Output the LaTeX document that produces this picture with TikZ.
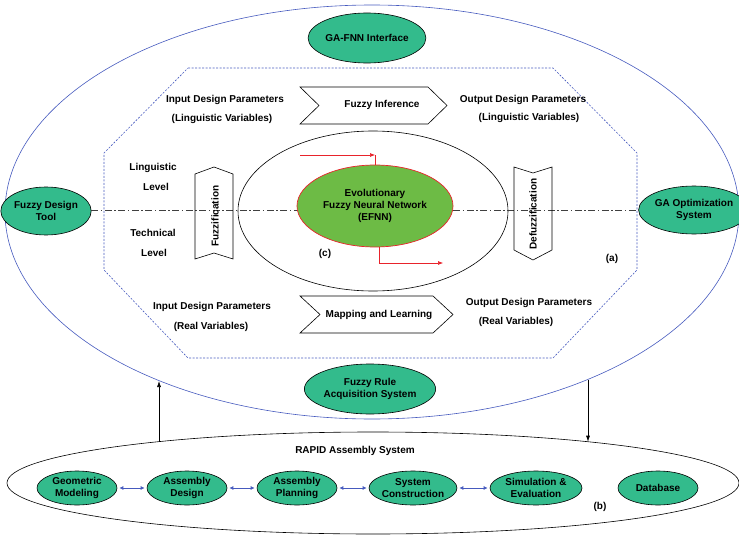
\documentclass[tikz,border=0pt]{standalone}
\usepackage{fontspec}
\setmainfont{Liberation Sans}
\usetikzlibrary{arrows.meta,shapes.geometric}
\definecolor{tealc}{RGB}{51,187,140}
\definecolor{greenc}{RGB}{109,187,69}
\definecolor{bluec}{RGB}{70,90,190}
\definecolor{redc}{RGB}{232,35,43}
\begin{document}
\begin{tikzpicture}[x=1pt,y=-1pt,
  every node/.style={font=\bfseries\fontsize{10}{12}\selectfont, inner sep=0pt},
  lbl/.style={},
  tnode/.style={draw=black, line width=0.6pt, fill=tealc, ellipse, align=center},
  bnode/.style={tnode, minimum width=80, minimum height=34},
  shapeline/.style={draw=black, line width=0.6pt},
  dashdot/.style={draw=black!75, line width=0.6pt, dash pattern=on 7pt off 2.5pt on 1.5pt off 2.5pt},
  octo/.style={draw=bluec, line width=0.6pt, dash pattern=on 2pt off 1.5pt},
  blarrow/.style={draw=bluec, line width=0.8pt, {Latex[length=4pt,width=4pt]}-{Latex[length=4pt,width=4pt]}, shorten <=2pt, shorten >=2pt},
  karrow/.style={draw=black, line width=0.6pt, -{Latex[length=6pt,width=4pt]}},
  rarrow/.style={draw=redc, line width=0.6pt, -{Latex[length=5pt,width=4pt]}}
]
\useasboundingbox (0,0) rectangle (739,535);

% outer ellipses
\node[draw=bluec, line width=0.6pt, ellipse, minimum width=734, minimum height=414] (outer) at (372,212) {};
\node[draw=black, line width=0.6pt, ellipse, minimum width=732, minimum height=102] (bottom) at (373,483) {};

% octagon
\draw[octo] (188,68) -- (553,68) -- (637,153) -- (637,270) -- (553,358) -- (188,358) -- (104,270) -- (104,153) -- cycle;

% middle ellipse
\node[draw=black, line width=0.6pt, ellipse, minimum width=270, minimum height=160] (mid) at (373,211) {};

% teal nodes of the upper system
\node[tnode, minimum width=110, minimum height=50] (gafnn) at (367,38) {GA-FNN Interface};
\node[tnode, minimum width=80, minimum height=48] (fdt) at (46,211) {Fuzzy Design\\Tool};
\node[tnode, minimum width=90, minimum height=48] (gao) at (694,210) {GA Optimization\\System};
\node[tnode, minimum width=105, minimum height=50] (fra) at (370,389) {Fuzzy Rule\\Acquisition System};

% EFNN
\node[draw=redc, line width=0.7pt, fill=greenc, ellipse, minimum width=156, minimum height=82, align=center] (efnn) at (375,206) {Evolutionary\\Fuzzy Neural Network\\(EFNN)};

% dash-dot axis
\draw[dashdot] (fdt.east |- 0,210) -- (efnn.west |- 0,210);
\draw[dashdot] (efnn.east |- 0,210) -- (gao.west |- 0,210);

% chevron shapes
\draw[shapeline] (300,87) -- (428,87) -- (447,105.5) -- (428,124) -- (300,124) -- (319,105.5) -- cycle;
\node (finf) at (382,105) {Fuzzy Inference};
\draw[shapeline] (300,296) -- (433,296) -- (453,314.5) -- (433,333) -- (300,333) -- (320,314.5) -- cycle;
\node (mapl) at (379,315) {Mapping and Learning};
\draw[shapeline] (195,174) -- (214,167) -- (233,174) -- (233,259) -- (214,253) -- (195,259) -- cycle;
\node[rotate=90] (fuzz) at (215,216) {Fuzzification};
\draw[shapeline] (514,167) -- (533,173) -- (552,167) -- (552,250) -- (533,260) -- (514,250) -- cycle;
\node[rotate=90] (defuzz) at (533,214) {Defuzzification};

% labels
\node (idp1) at (225,100) {Input Design Parameters};
\node (idp1b) at (222,119) {(Linguistic Variables)};
\node (odp1) at (523,100) {Output Design Parameters};
\node (odp1b) at (529,118) {(Linguistic Variables)};
\node (ling1) at (153,168) {Linguistic};
\node (ling2) at (156,187) {Level};
\node (tech1) at (153,233) {Technical};
\node (tech2) at (154,253) {Level};
\node (idp2) at (212,307) {Input Design Parameters};
\node (idp2b) at (211,327) {(Real Variables)};
\node (odp2) at (529,303) {Output Design Parameters};
\node (odp2b) at (516,322) {(Real Variables)};
\node (la) at (612,259) {(a)};
\node (lc) at (325,254) {(c)};
\node (lb) at (600,507) {(b)};
\node (rapid) at (355,451) {RAPID Assembly System};

% red arrows
\coordinate (rs) at (300,155);
\coordinate (re) at (443,263);
\draw[rarrow] (rs) -- (efnn.north |- rs);
\draw[draw=redc, line width=0.6pt] (efnn.north |- rs) -- (efnn.north);
\draw[rarrow] ([xshift=4pt]efnn.south) |- (re);

% bottom nodes
\node[bnode] (geo) at (77,488) {Geometric\\Modeling};
\node[bnode] (ad) at (187,488) {Assembly\\Design};
\node[bnode] (ap) at (297,488) {Assembly\\Planning};
\node[bnode] (sc) at (413,488) {System\\Construction};
\node[bnode, minimum width=92] (se) at (536,488) {Simulation \&\\Evaluation};
\node[bnode] (db) at (658,488) {Database};

\draw[blarrow] (geo) -- (ad);
\draw[blarrow] (ad) -- (ap);
\draw[blarrow] (ap) -- (sc);
\draw[blarrow] (sc) -- (se);

% vertical arrows between the two systems
\coordinate (upS) at (159,441.6);
\coordinate (upE) at (159,381);
\coordinate (dnS) at (588,379.5);
\coordinate (dnE) at (588,441.7);
\draw[karrow] (upS) -- (upE);
\draw[karrow] (dnS) -- (dnE);
\end{tikzpicture}
\end{document}
